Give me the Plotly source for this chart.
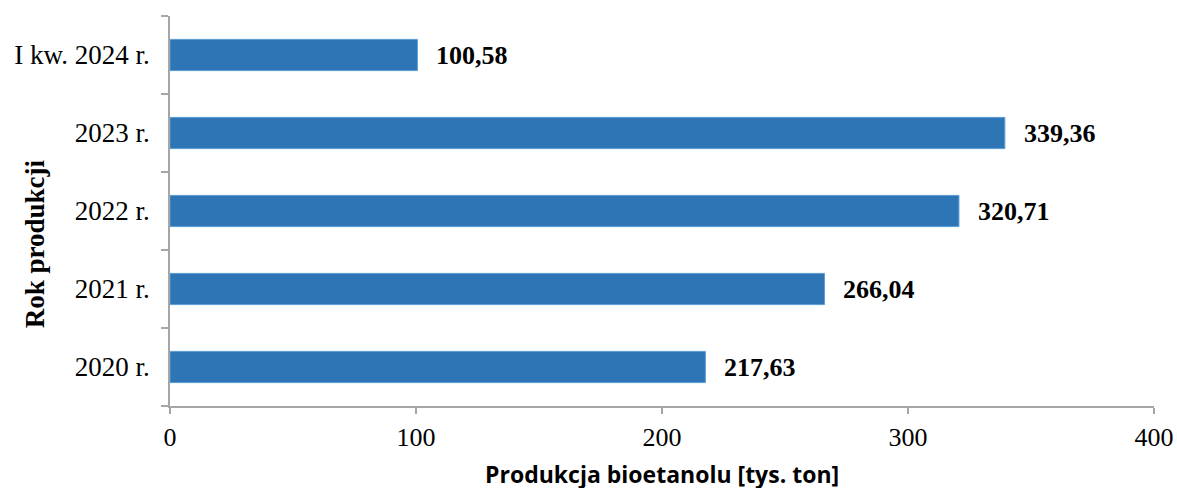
import plotly.graph_objects as go

categories = ["2020 r.", "2021 r.", "2022 r.", "2023 r.", "I kw. 2024 r."]
values = [217.63, 266.04, 320.71, 339.36, 100.58]
labels = ["217,63", "266,04", "320,71", "339,36", "100,58"]
x_ticks = [0, 100, 200, 300, 400]

fig = go.Figure()
fig.add_trace(go.Bar(
    y=categories, x=values, orientation="h",
    marker=dict(color="#2E75B6", line=dict(color="#5B9BD5", width=1)),
    hoverinfo="skip",
))

for c, v, t in zip(categories, values, labels):
    fig.add_annotation(x=v, y=c, text="<b>" + t + "</b>", showarrow=False,
                       xanchor="left", yanchor="middle", xshift=17,
                       font=dict(family="Liberation Serif", size=26, color="#000000"))

fig.add_annotation(xref="paper", yref="paper", x=0.5, y=-0.128, yanchor="top",
                   text="<b>Produkcja bioetanolu [tys. ton]</b>", showarrow=False,
                   font=dict(family="Open Sans", size=23, color="#000000"))
fig.add_annotation(xref="paper", yref="paper", x=-0.137, xanchor="center", y=0.415,
                   yanchor="middle", textangle=-90,
                   text="<b>Rok produkcji</b>", showarrow=False,
                   font=dict(family="Liberation Serif", size=27, color="#000000"))

fig.update_layout(
    width=1177, height=488,
    margin=dict(l=170, r=23, t=16, b=82, autoexpand=False),
    plot_bgcolor="white", paper_bgcolor="white",
    bargap=0.6, showlegend=False,
    font=dict(family="Liberation Serif", size=26, color="#000000"),
)
fig.update_xaxes(range=[0, 400], tickvals=x_ticks, showgrid=False, zeroline=False,
                 automargin=False,
                 showline=True, linecolor="#A6A6A6", linewidth=1.5,
                 ticks="outside", ticklen=6, tickcolor="#A6A6A6", tickwidth=1.5,
                 ticklabelstandoff=1,
                 tickfont=dict(family="Liberation Serif", size=26, color="#000000"))
fig.update_yaxes(categoryorder="array", categoryarray=categories, automargin=False,
                 showgrid=False, zeroline=False, showline=True, linecolor="#A6A6A6",
                 linewidth=1.5, ticks="outside", tickson="boundaries", ticklen=7,
                 tickcolor="#A6A6A6", tickwidth=1.5, ticklabelstandoff=13,
                 tickfont=dict(family="Liberation Serif", size=27, color="#000000"))

fig.write_html("out.html")
